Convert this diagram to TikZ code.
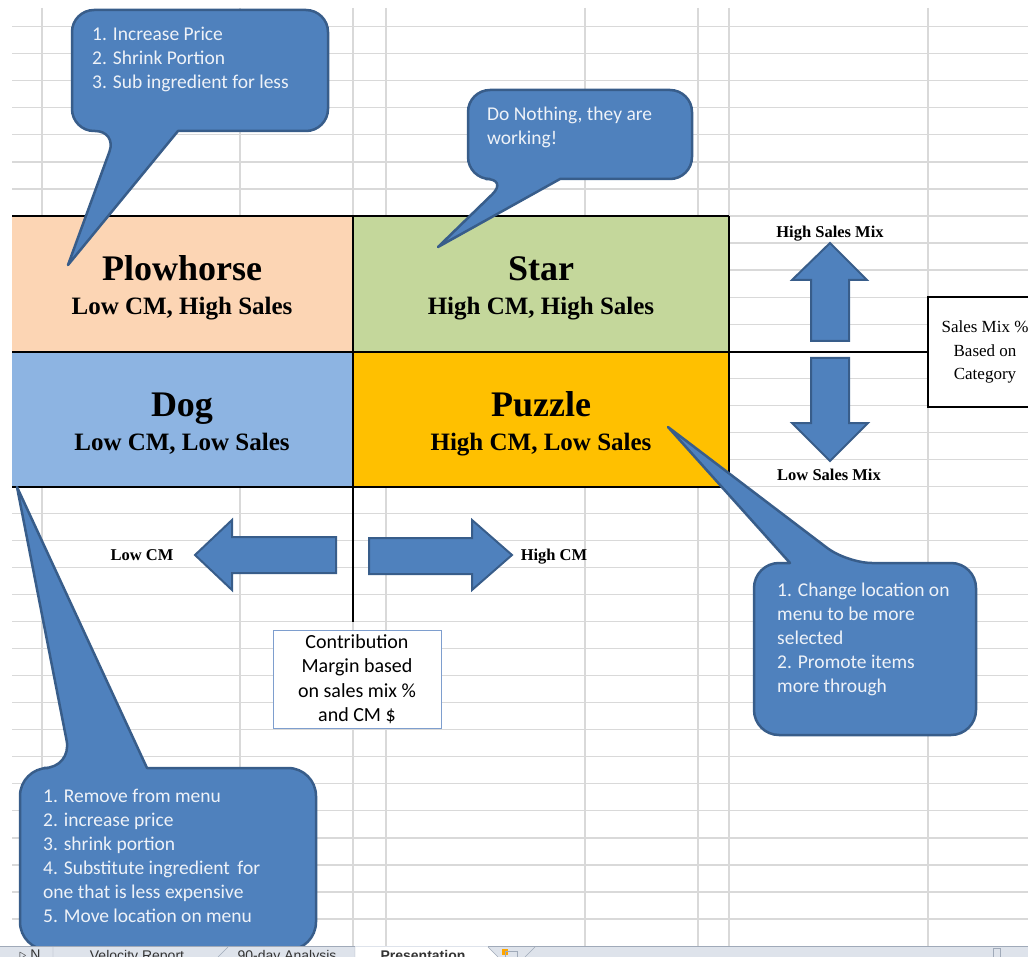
\documentclass[tikz,border=0pt]{standalone}
\usepackage{fontspec}
\setmainfont{Liberation Serif}
\newfontfamily\calibri{Carlito}
\newfontfamily\tabfont{Liberation Sans}
\definecolor{plowpeach}{RGB}{252,213,180}
\definecolor{stargreen}{RGB}{196,215,155}
\definecolor{dogblue}{RGB}{141,180,226}
\definecolor{puzzleorange}{RGB}{255,192,0}
\definecolor{calloutblue}{RGB}{79,129,189}
\definecolor{calloutedge}{RGB}{56,93,138}
\definecolor{callouttxt}{RGB}{238,242,248}
\definecolor{gridgray}{RGB}{217,217,217}
\definecolor{boxblue}{RGB}{126,158,206}
\definecolor{tabgray}{RGB}{222,227,235}
\definecolor{tabline}{RGB}{160,170,185}
\tikzset{
  gridline/.style={gridgray, line width=1.2},
  matrixline/.style={black, line width=1.2},
  quadtitle/.style={font=\bfseries\fontsize{36}{40}\selectfont, anchor=base},
  quadsub/.style={font=\bfseries\fontsize{25}{28}\selectfont, anchor=base},
  axislabel/.style={font=\bfseries\fontsize{16.5}{18}\selectfont, anchor=base},
  callout/.style={fill=calloutblue, draw=calloutedge, line width=2.5, line join=round},
  callouttext/.style={text=callouttxt, font=\calibri\fontsize{19.5}{24}\selectfont,
    align=left, anchor=north west, inner sep=0},
  blockarrow/.style={fill=calloutblue, draw=calloutedge, line width=2, line join=miter},
  tablabel/.style={font=\tabfont\fontsize{14}{16}\selectfont, anchor=north, inner sep=0, text=black!80},
}

\begin{document}
\begin{tikzpicture}[x=1pt,y=-1pt]
  \useasboundingbox (0,0) rectangle (1028,957);
  \clip (0,0) rectangle (1028,957);

  % sheet grid
  \foreach \k in {-7,...,26}{
    \draw[gridline] (12,{216+27.04*\k}) -- (1028,{216+27.04*\k});
  }
  \foreach \x in {42,240,353,386,585,698,729,928}{
    \draw[gridline] (\x,8) -- (\x,946);
  }

  % the four quadrants
  \fill[plowpeach] (12,216) rectangle (353,352);
  \fill[stargreen] (353,216) rectangle (729,352);
  \fill[dogblue] (12,352) rectangle (353,487);
  \fill[puzzleorange] (353,352) rectangle (729,487);
  \draw[matrixline] (12,216) -- (729,216) (12,352) -- (928,352) (12,487) -- (729,487)
    (353,216) -- (353,622) (729,216) -- (729,487);

  \node[quadtitle] (plowtitle) at (182,281) {Plowhorse};
  \node[quadsub] (plowsub) at (182,315) {Low CM, High Sales};
  \node[quadtitle] (startitle) at (541,281) {Star};
  \node[quadsub] (starsub) at (541,315) {High CM, High Sales};
  \node[quadtitle] (dogtitle) at (182,417) {Dog};
  \node[quadsub] (dogsub) at (182,450) {Low CM, Low Sales};
  \node[quadtitle] (puzzletitle) at (541,417) {Puzzle};
  \node[quadsub] (puzzlesub) at (541,450) {High CM, Low Sales};

  % axes
  \node[axislabel] (highmix) at (830,238) {High Sales Mix};
  \node[axislabel] (lowmix) at (829,480) {Low Sales Mix};
  \node[axislabel] (lowcm) at (142,560) {Low CM};
  \node[axislabel] (highcm) at (554,560) {High CM};
  \draw[blockarrow] (830,243) -- (867,280) -- (849,280) -- (849,341) -- (811,341) -- (811,280) -- (792,280) -- cycle;
  \draw[blockarrow] (830,461) -- (868,423) -- (849,423) -- (849,358) -- (811,358) -- (811,423) -- (792,423) -- cycle;
  \draw[blockarrow] (195,555) -- (232,520) -- (232,537) -- (336,537) -- (336,573) -- (232,573) -- (232,590) -- cycle;
  \draw[blockarrow] (512,555) -- (472,520) -- (472,538) -- (369,538) -- (369,574) -- (472,574) -- (472,590) -- cycle;

  \node[draw=black, line width=1.2, fill=white, minimum width=114, minimum height=110, align=center,
    font=\fontsize{17}{23.5}\selectfont] (mixbox) at (985,352) {Sales Mix \%\\Based on\\Category};
  \node[draw=boxblue, line width=1, fill=white, minimum width=168, minimum height=98, align=center,
    font=\calibri\fontsize{20}{24.4}\selectfont] (cmbox) at (357,679) {Contribution\\Margin based\\on sales mix \%\\and CM \$};

  % callouts
  \draw[callout] (178,131) [rounded corners=22] -- (328,131) -- (328,10) -- (72,10) -- (72,131) -- (117,131)
    [sharp corners] -- (68,265) -- cycle;
  \node[callouttext] (plowtip) at (92,27) {1. Increase Price\\2. Shrink Portion\\3. Sub ingredient for less};

  \draw[callout] (560,179) [rounded corners=22] -- (692,179) -- (692,90) -- (468,90) -- (468,179) -- (508,179)
    [sharp corners] -- (438,247) -- cycle;
  \node[callouttext] (startip) at (487,107) {Do Nothing, they are\\working!};

  \draw[callout] (790,563) [rounded corners=25] -- (754,563) -- (754,735) -- (976,735) -- (976,563) -- (847,563)
    [sharp corners] -- (668,427) -- cycle;
  \node[callouttext] (puzzletip) at (777,583) {1. Change location on\\menu to be more\\selected\\2. Promote items\\more through};

  \draw[callout] (147,768) [rounded corners=28] -- (316,768) -- (316,950) -- (20,950) -- (20,768) -- (72,768)
    [sharp corners] -- (17,487) -- cycle;
  \node[callouttext] (dogtip) at (43,789) {1. Remove from menu\\2. increase price\\3. shrink portion\\
    4. Substitute ingredient\, for\\one that is less expensive\\5. Move location on menu};

  % sheet tabs
  \fill[tabgray] (0,946) rectangle (1028,957);
  \fill[white] (355,947) -- (488,947) -- (498,957) -- (355,957) -- cycle;
  \draw[tabline] (0,946.5) -- (355,946.5) (488,946.5) -- (1028,946.5);
  \draw[tabline] (53,947) -- (53,957) (218,957) -- (228,947) (355,947) -- (355,957)
    (488,947) -- (498,957) (525,957) -- (535,947);
  \node[tablabel] (navbtn) at (30,950) {\(\triangleright\) N};
  \node[tablabel] (velocitytab) at (137,950) {Velocity Report};
  \node[tablabel] (analysistab) at (287,950) {90-day Analysis};
  \node[tablabel, font=\tabfont\bfseries\fontsize{14}{16}\selectfont] (presenttab) at (423,950) {Presentation};
  \fill[orange!70!yellow] (502,949) rectangle (508,955);
  \draw[tabline] (505,951) rectangle (517,957);
  \draw[tabline] (993,948) rectangle (1000,957);
\end{tikzpicture}
\end{document}
